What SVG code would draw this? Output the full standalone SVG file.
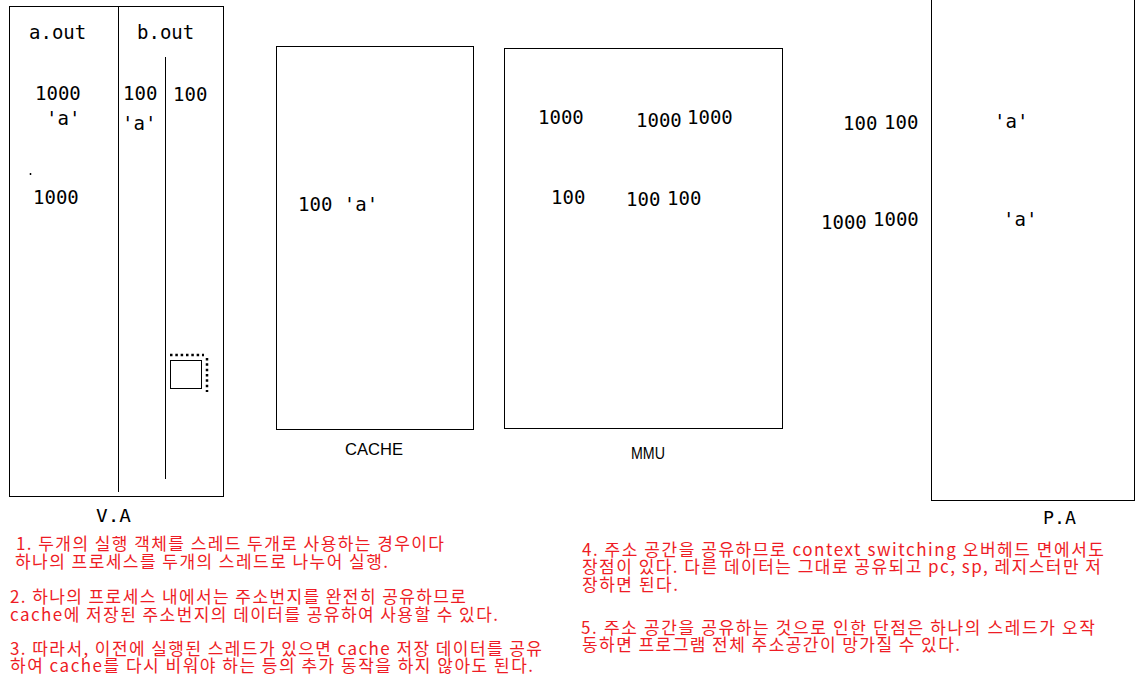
<svg xmlns="http://www.w3.org/2000/svg" width="1148" height="698" viewBox="0 0 1148 698">
<style>
.box{fill:none;stroke:#000;stroke-width:1}
.ln{stroke:#000;stroke-width:1;fill:none}
.m{font-family:"DejaVu Sans Mono","Liberation Mono",monospace;font-size:19px;fill:#000}
.lbl{font-family:"Liberation Sans","DejaVu Sans",sans-serif;fill:#000}
.lblm{font-family:"DejaVu Sans Mono","Liberation Mono",monospace;font-size:17px;fill:#000}
.kr{font-family:"Noto Sans CJK KR","Noto Sans",sans-serif;font-size:17px;fill:#ee1c25}
.dot{stroke:#000;stroke-width:2.5;stroke-dasharray:2.5 2.83;fill:none}
</style>
<rect width="1148" height="698" fill="#fff"/>
<g id="va">
  <rect class="box" x="9.5" y="6.5" width="214" height="490"/>
  <line class="ln" x1="118.5" y1="6.5" x2="118.5" y2="492"/>
  <line class="ln" x1="165.5" y1="57" x2="165.5" y2="479"/>
  <text class="m" x="29" y="39">a.out</text>
  <text class="m" x="137" y="39">b.out</text>
  <text class="m" x="35" y="100">1000</text>
  <text class="m" x="46" y="125">'a'</text>
  <path d="M30.5 173v2M29.5 174h2" class="ln"/>
  <text class="m" x="33" y="204">1000</text>
  <text class="m" x="123" y="100">100</text>
  <text class="m" x="122" y="130">'a'</text>
  <text class="m" x="173" y="101">100</text>
  <rect class="box" x="170.5" y="360.5" width="31" height="28"/>
  <line class="dot" x1="170" y1="355" x2="204" y2="355"/>
  <line class="dot" x1="207" y1="358" x2="207" y2="392"/>
  <text class="lblm" x="96" y="522" textLength="35" lengthAdjust="spacingAndGlyphs">V.A</text>
</g>
<g id="cache">
  <rect class="box" x="276.5" y="46.5" width="197" height="383"/>
  <text class="m" x="298" y="211">100 'a'</text>
  <text class="lbl" x="345" y="455" font-size="17" textLength="58" lengthAdjust="spacingAndGlyphs">CACHE</text>
</g>
<g id="mmu">
  <rect class="box" x="504.5" y="48.5" width="278" height="380"/>
  <text class="m" x="538" y="124">1000</text>
  <text class="m" x="636" y="127">1000</text>
  <text class="m" x="687" y="124">1000</text>
  <text class="m" x="551" y="204">100</text>
  <text class="m" x="626" y="206">100</text>
  <text class="m" x="667" y="205">100</text>
  <text class="lbl" x="631" y="459" font-size="17" textLength="34" lengthAdjust="spacingAndGlyphs">MMU</text>
</g>
<g id="pa">
  <rect class="box" x="931.5" y="-2" width="203" height="502.5"/>
  <text class="m" x="843" y="130">100</text>
  <text class="m" x="884" y="129">100</text>
  <text class="m" x="994" y="128">'a'</text>
  <text class="m" x="821" y="229">1000</text>
  <text class="m" x="873" y="226">1000</text>
  <text class="m" x="1003" y="226">'a'</text>
  <text class="lblm" x="1043" y="524" textLength="33" lengthAdjust="spacingAndGlyphs">P.A</text>
</g>
<g id="notes-left">
  <text class="kr" x="16" y="550" textLength="428">1. 두개의 실행 객체를 스레드 두개로 사용하는 경우이다</text>
  <text class="kr" x="15" y="567.5" textLength="373">하나의 프로세스를 두개의 스레드로 나누어 실행.</text>
  <text class="kr" x="10" y="603" textLength="456">2. 하나의 프로세스 내에서는 주소번지를 완전히 공유하므로</text>
  <text class="kr" x="10" y="620.5" textLength="488">cache에 저장된 주소번지의 데이터를 공유하여 사용할 수 있다.</text>
  <text class="kr" x="10" y="655" textLength="532">3. 따라서, 이전에 실행된 스레드가 있으면 cache 저장 데이터를 공유</text>
  <text class="kr" x="10" y="672" textLength="523">하여 cache를 다시 비워야 하는 등의 추가 동작을 하지 않아도 된다.</text>
</g>
<g id="notes-right">
  <text class="kr" x="582" y="556" textLength="522">4. 주소 공간을 공유하므로 context switching 오버헤드 면에서도</text>
  <text class="kr" x="582" y="573" textLength="519">장점이 있다. 다른 데이터는 그대로 공유되고 pc, sp, 레지스터만 저</text>
  <text class="kr" x="582" y="591" textLength="96">장하면 된다.</text>
  <text class="kr" x="581" y="634" textLength="514">5. 주소 공간을 공유하는 것으로 인한 단점은 하나의 스레드가 오작</text>
  <text class="kr" x="582" y="651" textLength="378">동하면 프로그램 전체 주소공간이 망가질 수 있다.</text>
</g>
<g id="connectors"></g>
</svg>
